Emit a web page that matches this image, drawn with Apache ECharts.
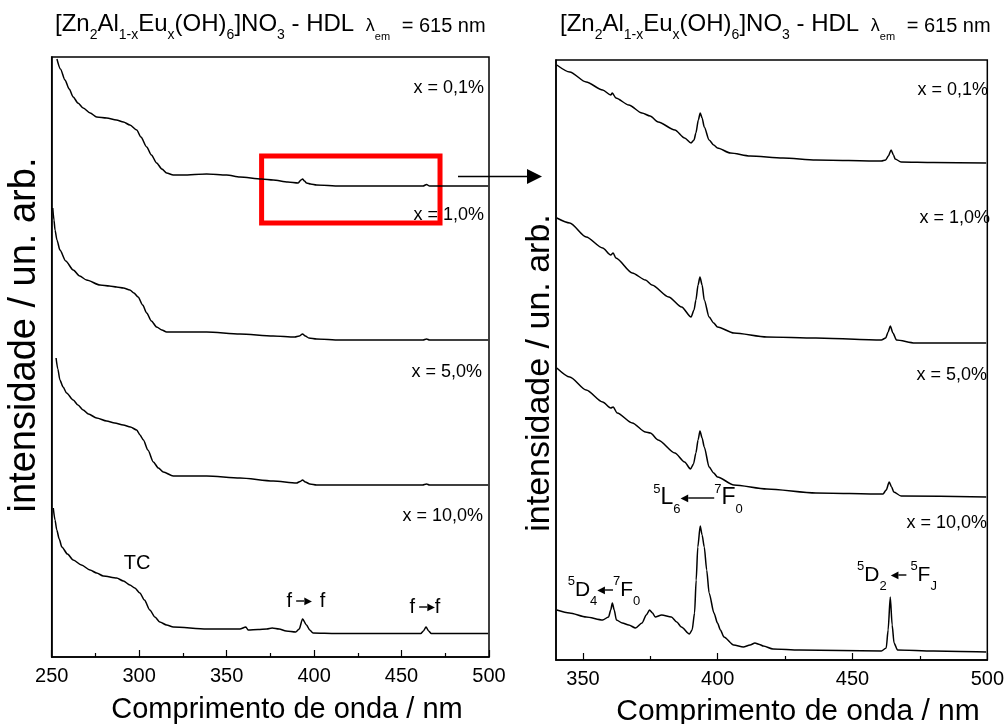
<!DOCTYPE html>
<html>
<head>
<meta charset="utf-8">
<script src="https://cdn.jsdelivr.net/npm/echarts@6/dist/echarts.min.js"></script>
<style>
html,body{margin:0;padding:0;background:#fff;}
#chart{width:1007px;height:724px;}
</style>
</head>
<body>
<div id="chart"></div>
<script>
// ---------- DATA (wavelength nm, intensity arb. units incl. stacking offset) ----------
var leftTicks = [250, 300, 350, 400, 450, 500];
var rightTicks = [350, 400, 450, 500];
var rightMinorTicks = [375, 425, 475];
var sampleLabels = ['x = 0,1%', 'x = 1,0%', 'x = 5,0%', 'x = 10,0%'];

var left01 = [[253,598],[255,588],[257.6,577],[260,568],[262.3,560],[265,554],[268,549],[272,544],[275.7,540],[281.4,539],[287,537],[291,535],[294.7,532],[298.6,527],[301,520],[304.3,510],[307,502],[310,494],[313,488],[315.7,484],[319.5,482],[325,482],[338.6,483],[350,482],[357.6,480],[370,478],[376.6,477],[385,475],[390.9,474],[392.5,477],[393.4,478],[394.5,476],[395.7,474],[398,473],[401.4,472],[414.7,471],[440,471],[462.3,471],[464.3,472.5],[466,471],[480,471],[499.5,471]];
var left10 = [[250.6,449],[251.3,437],[251.9,427],[253,417],[254.7,407],[258,396],[262.3,387],[266,381],[269.9,377],[277.6,372],[283,371],[287.1,370],[291,369],[294.7,367],[297,364],[299.4,360],[302,352],[304.3,344],[307,336],[310,330],[313,327],[315.7,325],[319.5,325],[338.6,325],[357.6,323],[376.6,321],[389,320],[391.5,321],[393.4,323],[395,321],[397,319],[401.4,318],[414.7,317],[462.3,317],[464.3,318],[466,317],[499.5,317]];
var left50 = [[252.5,299],[253.5,288],[254.7,277],[256.5,270],[258.5,264],[262.3,257],[265,252],[268,247],[271,243],[275.7,239],[281.4,236],[286,234],[290.9,232],[295,230],[298.6,227],[300.5,222],[302.4,217],[305,207],[308.1,195],[311,189],[313.8,185],[319.5,181],[338.6,181],[357.6,179],[376.6,176],[390,174],[392,175.5],[393.4,177],[395,175],[397.6,173],[401.4,172],[462,172],[464.3,173],[466,172],[499.5,172]];
var left100 = [[250.9,149],[251.9,137],[252.9,127],[254.3,118],[255.8,110],[259,103],[262.3,97],[267,92],[271.9,87],[275.7,84],[279.5,81],[287.1,79],[291,76],[294.7,72],[297.5,69],[300.4,64],[303,57],[306.1,47],[309,40],[311.8,35],[315.7,32],[319.5,30],[338.6,28],[357.6,28],[361,30],[362.3,27],[368,27.5],[373,28],[376,29],[380,28],[384,26],[389.5,25],[391.5,28],[393.4,38],[395.7,32],[397.5,27],[399.4,24],[412.6,23.5],[440,23.5],[461,23.5],[462.5,26],[464,30],[465.5,26],[467,23.5],[499.5,23.5]];

var right01 = [[340.3,595],[345.1,588],[351.2,578],[357.3,570],[360.3,565],[360.9,567],[362.2,562],[367,555],[371.9,547],[374.9,544],[377.9,538],[384.1,530],[387.7,522],[390.1,517],[391.2,520],[391.9,527],[392.8,540],[393.5,547],[394.2,542],[395,533],[396.8,520],[398.5,515],[399.9,512],[404.7,507],[412,504],[424.2,502],[436.4,500],[460.7,499],[462.3,500],[463.3,504],[464.3,510],[465.2,505],[465.8,501],[468,498],[480,497.5],[499.6,497]];
var right10 = [[340.3,442],[345.1,437],[351.2,423],[357.3,412],[360.3,405],[361.2,407],[362.2,402],[368.3,387],[373.2,380],[375.6,375],[381.8,363],[386.6,353],[390.1,343],[391.2,350],[391.9,360],[392.7,375],[393.4,383],[394.2,375],[395,360],[396.8,343],[398.5,337],[399.9,333],[406,327],[418.2,323],[436.4,322],[460.7,320],[462.3,322],[463.2,328],[464,334],[465,327],[466.3,320],[473.1,317],[499.6,317]];
var right50 = [[340.3,292],[345.1,283],[351.2,270],[357.3,258],[360.3,252],[361.2,253],[362.7,247],[368.3,237],[373.2,228],[375,227],[377.9,220],[384.1,207],[387.7,198],[389.9,191],[391,196],[391.9,207],[392.7,220],[393.4,229],[394.2,222],[395,213],[396.8,193],[398.5,187],[399.9,183],[406,175],[418.2,171],[436.4,167],[461.3,166],[462.5,170],[463.6,178],[464.5,173],[465.3,168],[468,164],[499.6,163]];
var right100 = [[340.3,50],[345,47],[351.2,43],[357.3,40],[359.5,43],[360.3,50],[360.9,57],[361.6,50],[362.4,40],[364.6,37],[367,35],[369.5,32],[371.9,37],[373.5,45],[374.7,50],[375.8,47],[376.8,43],[379.2,45],[382.8,43],[384.8,38],[386.5,33],[389.5,26],[390.5,30],[391.4,47],[392,80],[392.6,113],[393.5,134],[394.2,125],[395,113],[395.9,90],[396.8,67],[398.6,47],[399.9,37],[401,30],[402.3,23],[405.9,15],[409.5,13],[412,15],[413.8,17],[415.5,15.5],[416.9,14],[420.5,11],[430.3,10],[460.7,9],[462.5,12],[463.2,30],[464,63],[464.7,35],[465.4,17],[466.7,10],[480,9],[499.6,8]];

// ---------- STYLE ----------
var FONT = "'Liberation Sans', Arial, Helvetica, sans-serif";
var lineStyle = {color:'#000', width:1.5};

function seriesOf(data, gi){
  return {type:'line', xAxisIndex: gi===0?0:1, yAxisIndex: gi, data:data, showSymbol:false, symbol:'none',
    smooth:0.25, smoothMonotone:'x', lineStyle:lineStyle, silent:true, animation:false};
}

// rich styles for spectroscopic notation
function specRich(big){
  return {
    b:{fontSize:big, fontFamily:FONT, color:'#000', height:big, lineHeight:34, verticalAlign:'middle'},
    p:{fontSize:13, fontFamily:FONT, color:'#000', height:16, lineHeight:34, verticalAlign:'top'},
    q:{fontSize:13, fontFamily:FONT, color:'#000', height:12, lineHeight:34, verticalAlign:'bottom'},
    ah:{fontSize:10, fontFamily:'DejaVu Sans', color:'#000', height:10, lineHeight:34, verticalAlign:'middle'},
    ln:{width:8, height:1.4, backgroundColor:'#000', lineHeight:34, verticalAlign:'middle', fontSize:1},
    lnL:{width:26, height:1.4, backgroundColor:'#000', lineHeight:34, verticalAlign:'middle', fontSize:1},
    sp:{width:4, fontSize:1, lineHeight:34, verticalAlign:'middle'}
  };
}
var titleRich = {
  m:{fontSize:24, fontFamily:FONT, color:'#000', height:24, lineHeight:24, verticalAlign:'top'},
  s:{fontSize:14, fontFamily:FONT, color:'#000', height:14, lineHeight:30, verticalAlign:'bottom'},
  l:{fontSize:18, fontFamily:FONT, color:'#000', height:28, lineHeight:28, verticalAlign:'top'},
  e:{fontSize:11, fontFamily:FONT, color:'#000', height:11, lineHeight:30, verticalAlign:'bottom'},
  n:{fontSize:20, fontFamily:FONT, color:'#000', height:28, lineHeight:28, verticalAlign:'top'},
  g:{width:6, fontSize:1, lineHeight:24, verticalAlign:'top'}
};
var titleText = '{m|[Zn}{s|2}{m|Al}{s|1-x}{m|Eu}{s|x}{m|(OH)}{s|6}{m|]NO}{s|3}{m| - HDL }{l| λ}{e|em}{g| }{n| = 615 nm}';

function txt(x, y, text, size, align, extra){
  var st = {text:text, font: size + 'px ' + FONT, fill:'#000', textAlign: align||'center', textVerticalAlign:'middle'};
  if (extra) for (var k in extra) st[k] = extra[k];
  return {type:'text', x:x, y:y, silent:true, style:st};
}

var chart = echarts.init(document.getElementById('chart'), null, {renderer:'canvas'});
var axisLineStyle = {color:'#000', width:1.5};
var option = {
  backgroundColor:'#fff',
  animation:false,
  grid:[
    {left:51.7, right:518, top:57, bottom:67, show:true, borderColor:'#000', borderWidth:1.5, backgroundColor:'transparent'},
    {left:556, right:13, top:60, bottom:64, show:true, borderColor:'#000', borderWidth:1.5, backgroundColor:'transparent'}
  ],
  xAxis:[
    {gridIndex:0, type:'value', min:250, max:500, interval:50,
      axisLine:{lineStyle:axisLineStyle}, axisTick:{inside:true, length:7, lineStyle:{color:'#000', width:1.2}},
      minorTick:{show:true, splitNumber:2, length:4, lineStyle:{color:'#000', width:1.2}},
      splitLine:{show:false}, minorSplitLine:{show:false},
      axisLabel:{color:'#000', fontSize:20, fontFamily:FONT, margin:9}},
    {gridIndex:1, type:'value', min:340, max:500, position:'bottom',
      axisLine:{lineStyle:axisLineStyle}, axisTick:{inside:true, length:7, customValues:rightTicks, lineStyle:{color:'#000', width:1.2}},
      splitLine:{show:false},
      axisLabel:{color:'#000', fontSize:20, fontFamily:FONT, margin:9, customValues:rightTicks, showMinLabel:true, showMaxLabel:true}},
    {gridIndex:1, type:'value', min:340, max:500, position:'bottom', offset:0,
      axisLine:{show:false}, axisTick:{inside:true, length:4, customValues:rightMinorTicks, lineStyle:{color:'#000', width:1.2}},
      splitLine:{show:false}, axisLabel:{show:false}}
  ],
  yAxis:[
    {gridIndex:0, type:'value', min:0, max:600, axisLine:{show:true, lineStyle:axisLineStyle}, axisTick:{show:false}, axisLabel:{show:false}, splitLine:{show:false}},
    {gridIndex:1, type:'value', min:0, max:600, axisLine:{show:true, lineStyle:axisLineStyle}, axisTick:{show:false}, axisLabel:{show:false}, splitLine:{show:false}}
  ],
  series:[
    (function(){ var s = seriesOf(left01,0);
      s.markArea = {silent:true, itemStyle:{color:'rgba(0,0,0,0)', borderColor:'#ff0000', borderWidth:5},
        data:[[{coord:[370,501]},{coord:[472,434]}]]};
      return s; })(),
    seriesOf(left10,0), seriesOf(left50,0), seriesOf(left100,0),
    seriesOf(right01,1), seriesOf(right10,1), seriesOf(right50,1), seriesOf(right100,1)
  ],
  graphic:[
    // titles
    {type:'text', x:55, y:12, silent:true, style:{text:titleText, rich:titleRich, textAlign:'left', textVerticalAlign:'top'}},
    {type:'text', x:560, y:12, silent:true, style:{text:titleText, rich:titleRich, textAlign:'left', textVerticalAlign:'top'}},
    // axis titles
    txt(287, 710, 'Comprimento de onda / nm', 29),
    txt(798, 712, 'Comprimento de onda / nm', 30),
    {type:'text', x:25, y:335, rotation:Math.PI/2, silent:true, style:{text:'intensidade / un. arb.', font:'38px '+FONT, fill:'#000', textAlign:'center', textVerticalAlign:'middle'}},
    {type:'text', x:540, y:373, rotation:Math.PI/2, silent:true, style:{text:'intensidade / un. arb.', font:'34px '+FONT, fill:'#000', textAlign:'center', textVerticalAlign:'middle'}},
    // sample labels left
    txt(484, 88, sampleLabels[0], 18, 'right'),
    txt(484, 215, sampleLabels[1], 18, 'right'),
    txt(482, 372, sampleLabels[2], 18, 'right'),
    txt(483, 516, sampleLabels[3], 18, 'right'),
    // sample labels right
    txt(988, 90, sampleLabels[0], 18, 'right'),
    txt(990, 218, sampleLabels[1], 18, 'right'),
    txt(987, 375, sampleLabels[2], 18, 'right'),
    txt(987, 523, sampleLabels[3], 18, 'right'),
    // left annotations
    txt(137, 563, 'TC', 20),
    {type:'text', x:306, y:601, silent:true, style:{text:'{b|f}{sp| }{ln| }{ah|▶}{sp| }{sp| }{b|f}', rich:specRich(20), textAlign:'center', textVerticalAlign:'middle'}},
    {type:'text', x:425, y:607, silent:true, style:{text:'{b|f}{sp| }{ln| }{ah|▶}{b|f}', rich:specRich(20), textAlign:'center', textVerticalAlign:'middle'}},
    // right annotations
    {type:'text', x:698, y:498, silent:true, style:{text:'{p|5}{b|L}{q|6}{ah|◀}{lnL| }{p|7}{b|F}{q|0}', rich:specRich(23), textAlign:'center', textVerticalAlign:'middle'}},
    {type:'text', x:604, y:590, silent:true, style:{text:'{p|5}{b|D}{q|4}{ah|◀}{ln| }{p|7}{b|F}{q|0}', rich:specRich(21), textAlign:'center', textVerticalAlign:'middle'}},
    {type:'text', x:897, y:575, silent:true, style:{text:'{p|5}{b|D}{q|2}{sp| }{ah|◀}{ln| }{sp| }{p|5}{b|F}{q|J}', rich:specRich(21), textAlign:'center', textVerticalAlign:'middle'}},
    // zoom arrow between panels
    {type:'line', silent:true, shape:{x1:458, y1:176.5, x2:530, y2:176.5}, style:{stroke:'#000', lineWidth:1.3}},
    {type:'polygon', silent:true, shape:{points:[[527,169],[542,176.5],[527,184]]}, style:{fill:'#000'}}
  ]
};
chart.setOption(option);
</script>
</body>
</html>
